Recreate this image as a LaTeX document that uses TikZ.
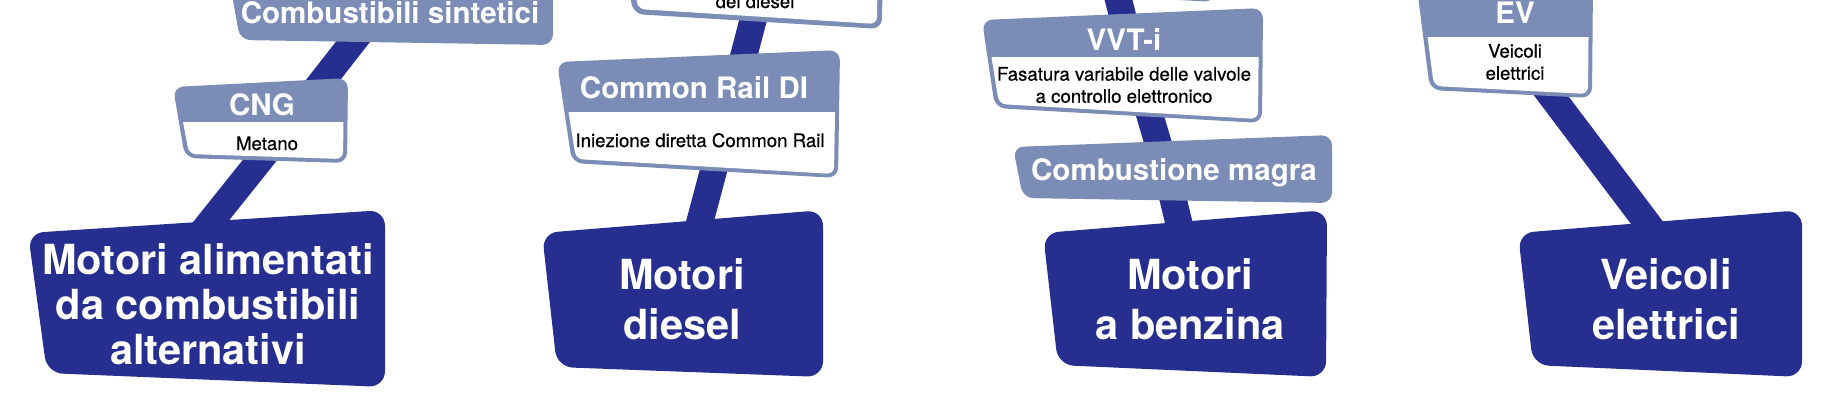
\documentclass[tikz,border=0pt]{standalone}
\usepackage{fontspec}
\setmainfont{TeX Gyre Heros}
\newfontfamily\medfont[FakeBold=0.6]{TeX Gyre Heros}
\definecolor{navy}{RGB}{38,47,143}
\definecolor{lilac}{RGB}{123,141,182}
\begin{document}
\begin{tikzpicture}[x=0.01cm, y=-0.01cm, line join=round,
    link/.style={draw=navy, line width=0.27cm},
    mainbox/.style={fill=navy, rounded corners=4.5pt},
    tagbox/.style={fill=lilac, rounded corners=3pt},
    subarea/.style={fill=white, rounded corners=2pt},
    maintxt/.style={text=white, font=\fontsize{11.8}{14.2}\selectfont\bfseries, align=center, inner sep=0pt},
    tagtxt/.style={text=white, font=\fontsize{8.4}{10}\selectfont\bfseries, inner sep=0pt, anchor=base},
    subtxt/.style={text=black, font=\medfont\fontsize{5.3}{6.3}\selectfont, align=center, inner sep=0pt}]
  \useasboundingbox (0,0) rectangle (1831,414);
  \clip (0,0) rectangle (1831,414);
  % band ends
  \coordinate (synB) at (370,20);
  \coordinate (cngC) at (284,130);
  \coordinate (altT) at (196,240);
  \coordinate (dtopB) at (757,5);
  \coordinate (crdiC) at (727,120);
  \coordinate (dieT) at (695,240);
  \coordinate (ptopB) at (1116,-10);
  \coordinate (vvtC) at (1135,65);
  \coordinate (leanC) at (1166,170);
  \coordinate (benT) at (1183,240);
  \coordinate (evC) at (1509,40);
  \coordinate (eleT) at (1660,240);
  \draw[link] (synB) -- (cngC);
  \draw[link] (cngC) -- (altT);
  \draw[link] (dtopB) -- (crdiC);
  \draw[link] (crdiC) -- (dieT);
  \draw[link] (ptopB) -- (vvtC);
  \draw[link] (vvtC) -- (leanC);
  \draw[link] (leanC) -- (benT);
  \draw[link] (evC) -- (eleT);
  % alternative fuels
  \fill[tagbox] (226,-40) -- (553,-50) -- (553,45) -- (240,40) -- cycle;
  \fill[tagbox] (173,87) -- (348,78) -- (347,163) -- (185,158) -- cycle;
  \begin{scope}
    \clip (150,122) rectangle (360,180);
    \fill[subarea] (177,90) -- (344,81) -- (343,159) -- (189,154) -- cycle;
  \end{scope}
  \fill[mainbox] (28,233) -- (385,210) -- (385,387) -- (47,373) -- cycle;
  \node[tagtxt] (syn) at (390,23) {Combustibili sintetici};
  \node[tagtxt] (cng) at (262,115) {CNG};
  \node[subtxt, anchor=base] (metano) at (267,150) {Metano};
  \node[maintxt, font=\fontsize{11.8}{12.8}\selectfont\bfseries] (alt) at (208,304)
    {Motori alimentati\\da combustibili\\alternativi};
  % diesel
  \fill[tagbox] (622,-60) -- (883,-70) -- (882,29) -- (633,14) -- cycle;
  \fill[subarea] (627,-60) -- (878,-70) -- (877,24) -- (638,9) -- cycle;
  \fill[tagbox] (557,62) -- (840,50) -- (838,178) -- (572,163) -- cycle;
  \begin{scope}
    \clip (540,112) rectangle (850,190);
    \fill[subarea] (561,65) -- (836,53) -- (834,174) -- (576,159) -- cycle;
  \end{scope}
  \fill[mainbox] (542,233) -- (823,210) -- (823,377) -- (557,367) -- cycle;
  \node[subtxt, anchor=base] (deldiesel) at (755,8) {del diesel};
  \node[tagtxt] (crdi) at (694,98) {Common Rail DI};
  \node[subtxt, anchor=base] (iniez) at (700,147) {Iniezione diretta Common Rail};
  \node[maintxt] (die) at (682,299) {Motori\\diesel};
  % petrol
  \fill[tagbox] (990,-80) -- (1215,-80) -- (1215,2) -- (1000,-10) -- cycle;
  \fill[tagbox] (982,20) -- (1263,8) -- (1262,123) -- (995,108) -- cycle;
  \begin{scope}
    \clip (970,57) rectangle (1280,140);
    \fill[subarea] (986,23) -- (1259,11) -- (1258,119) -- (999,104) -- cycle;
  \end{scope}
  \fill[tagbox] (1013,147) -- (1332,135) -- (1332,203) -- (1023,198) -- cycle;
  \fill[mainbox] (1043,233) -- (1327,210) -- (1326,377) -- (1058,365) -- cycle;
  \node[tagtxt] (vvt) at (1124,50) {VVT-i};
  \node[subtxt] (fasat) at (1124,85) {Fasatura variabile delle valvole\\a controllo elettronico};
  \node[tagtxt] (lean) at (1174,180) {Combustione magra};
  \node[maintxt] (ben) at (1190,299) {Motori\\a benzina};
  % electric
  \fill[tagbox] (1416,-20) -- (1593,-20) -- (1592,98) -- (1430,90) -- cycle;
  \begin{scope}
    \clip (1400,37) rectangle (1600,110);
    \fill[subarea] (1420,-20) -- (1589,-20) -- (1588,94) -- (1434,86) -- cycle;
  \end{scope}
  \fill[mainbox] (1518,233) -- (1802,210) -- (1802,377) -- (1533,365) -- cycle;
  \node[tagtxt] (ev) at (1515,23) {EV};
  \node[subtxt] (evsub) at (1515,62) {Veicoli\\elettrici};
  \node[maintxt] (ele) at (1666,299) {Veicoli\\elettrici};
\end{tikzpicture}
\end{document}
